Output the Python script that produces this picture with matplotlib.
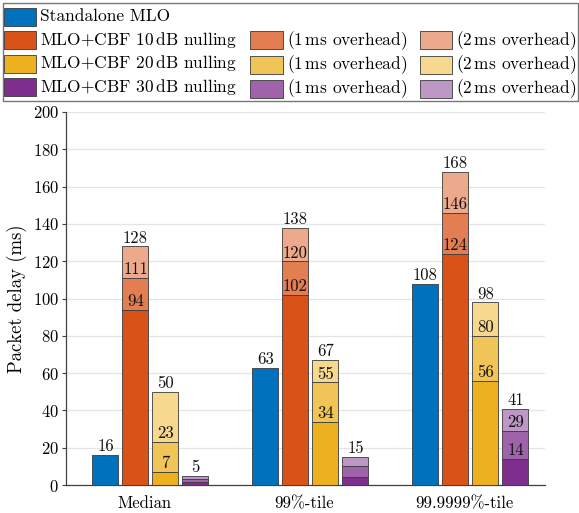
import matplotlib
matplotlib.use("Agg")
import matplotlib.pyplot as plt
from matplotlib.patches import Patch, Rectangle
from matplotlib.legend_handler import HandlerPatch
import numpy as np

plt.rcParams.update({
    "font.family": "serif",
    "font.serif": ["cmr10"],
    "mathtext.fontset": "cm",
    "axes.unicode_minus": False,
    "axes.formatter.use_mathtext": True,
})

# Data
groups = ["Median", "99%-tile", "99.9999%-tile"]
standalone = [16, 63, 108]
cbf10 = [[94, 111, 128], [102, 120, 138], [124, 146, 168]]   # base, +1 ms, +2 ms
cbf20 = [[7, 23, 50], [34, 55, 67], [56, 80, 98]]
cbf30 = [[1.5, 3.2, 5], [4.5, 10, 15], [14, 29, 41]]
yticks = [0, 20, 40, 60, 80, 100, 120, 140, 160, 180, 200]

blue = "#0072BD"
shades = {
    "10": ["#D95319", "#E27E52", "#ECA98C"],
    "20": ["#EDB120", "#F1C457", "#F6D88F"],
    "30": ["#7E2F8E", "#9E63AA", "#BE97C6"],
}
edge = "#3a3a3a"

fig = plt.figure(figsize=(5.79, 5.13), dpi=100)
ax = fig.add_axes([66 / 579, 28 / 513, (545 - 66) / 579, (485 - 112) / 513])

x = np.arange(len(groups))
pitch = 0.1875
width = 0.1625
fs = 12

def label(xc, y, text):
    ax.annotate(text, (xc, y), xytext=(0, 0.5), textcoords="offset points",
                ha="center", va="bottom", fontsize=fs, color="#111111")

# Standalone MLO
xs = x - 1.5 * pitch
ax.bar(xs, standalone, width, color=blue, edgecolor=edge, linewidth=0.6, zorder=3)
for xi, v in zip(xs, standalone):
    label(xi, v, str(v))

# Stacked CBF bars: base value, then 1 ms and 2 ms overhead on top
for k, (key, data) in enumerate([("10", cbf10), ("20", cbf20), ("30", cbf30)]):
    xs = x + (k - 0.5) * pitch
    arr = np.array(data, dtype=float)
    bottoms = np.zeros(len(groups))
    for s in range(3):
        heights = arr[:, s] - bottoms
        ax.bar(xs, heights, width, bottom=bottoms, color=shades[key][s],
               edgecolor=edge, linewidth=0.6, zorder=3)
        bottoms = arr[:, s]
    for gi in range(len(groups)):
        vals = arr[gi]
        label(xs[gi], vals[2], f"{vals[2]:g}")
        for s in range(2):
            if vals[s + 1] - vals[s] >= 10:
                label(xs[gi], vals[s], f"{vals[s]:g}")

ax.set_xlim(-0.528, 2.466)
ax.set_ylim(0, 200)
ax.set_yticks(yticks)
ax.set_xticks(x - 0.0375)
ax.set_xticklabels(groups, fontsize=fs)
ax.tick_params(axis="x", length=0, pad=8)
ax.tick_params(axis="y", direction="out", length=3, width=0.8, color="#404040",
               labelsize=fs, pad=2)
ax.set_ylabel("Packet delay (ms)", fontsize=13.5, labelpad=4)
ax.grid(axis="y", color="#e4e4e4", linewidth=0.9, zorder=0)
ax.set_axisbelow(True)
for side in ("top", "right"):
    ax.spines[side].set_visible(False)
for side in ("left", "bottom"):
    ax.spines[side].set_color("#404040")
    ax.spines[side].set_linewidth(0.9)


# Legend swatch: fixed-size box centred in a taller handle slot so all rows line up
def swatch(legend, orig_handle, xdescent, ydescent, width, height, fontsize):
    sh = 13.0
    return Rectangle((-xdescent, -ydescent + (height - sh) / 2 - 1.0), width, sh)


blank = Patch(facecolor="none", edgecolor="none")
def sw(c):
    return Patch(facecolor=c, edgecolor=edge, linewidth=0.6)

h = [
    sw(blue), sw(shades["10"][0]), sw(shades["20"][0]), sw(shades["30"][0]),
    blank, sw(shades["10"][1]), sw(shades["20"][1]), sw(shades["30"][1]),
    blank, sw(shades["10"][2]), sw(shades["20"][2]), sw(shades["30"][2]),
]
labels = [
    "Standalone MLO",
    r"MLO+CBF 10$\,$dB nulling",
    r"MLO+CBF 20$\,$dB nulling",
    r"MLO+CBF 30$\,$dB nulling",
    " ",
    r"(1$\,$ms overhead)",
    r"(1$\,$ms overhead)",
    r"(1$\,$ms overhead)",
    " ",
    r"(2$\,$ms overhead)",
    r"(2$\,$ms overhead)",
    r"(2$\,$ms overhead)",
]
leg = fig.legend(h, labels, ncol=3, loc="upper left",
                 bbox_to_anchor=(3 / 579, 1 - 3 / 513), borderaxespad=0,
                 fontsize=12.5, frameon=True, fancybox=False,
                 handler_map={Patch: HandlerPatch(patch_func=swatch)},
                 handlelength=1.85, handleheight=1.7, handletextpad=0.25,
                 columnspacing=0.75, labelspacing=0.0, borderpad=0.05)
leg.get_frame().set_edgecolor("#555555")
leg.get_frame().set_linewidth(1.0)

fig.savefig("out.png", dpi=100)
